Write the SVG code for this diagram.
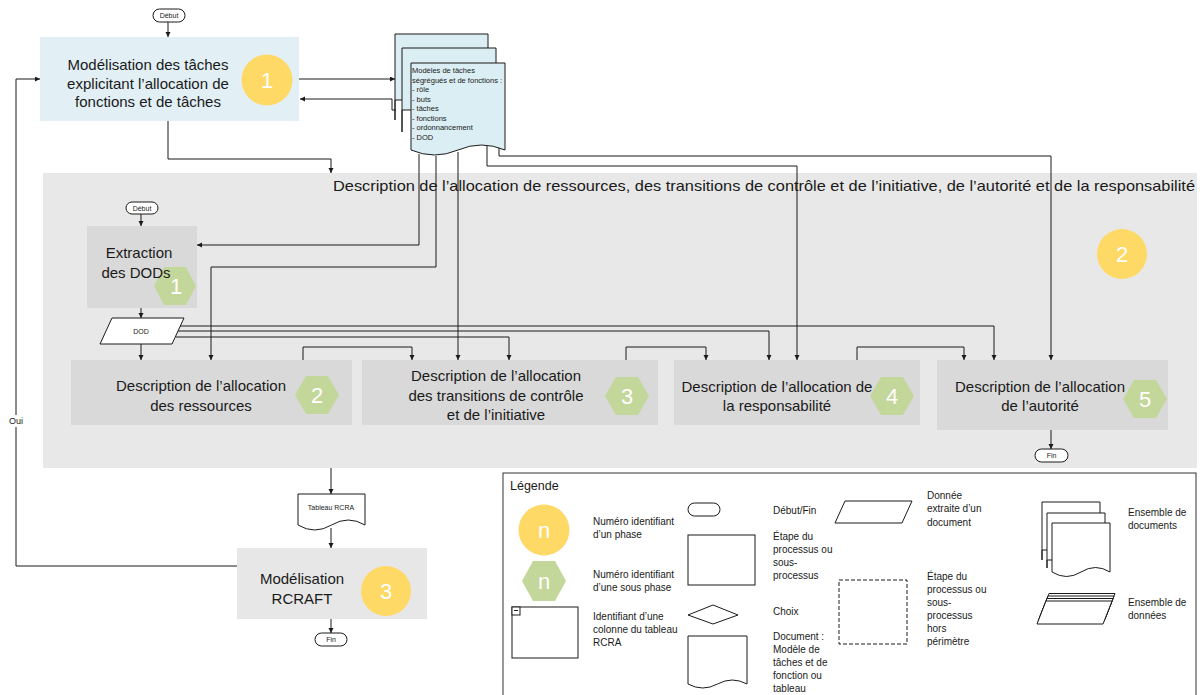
<svg xmlns="http://www.w3.org/2000/svg" width="1202" height="695" viewBox="0 0 1202 695">
<style>
text{font-family:"Liberation Sans",Arial,sans-serif;fill:#1a1a1a}
.ln{fill:none;stroke:#1a1a1a;stroke-width:1}
.ar{marker-end:url(#ah)}
.box{fill:#d9d9d9}
.t15{font-size:15px;text-anchor:middle}
.num{font-size:22px;fill:#fff;text-anchor:middle}
.yc{fill:#ffd966}
.gh{fill:#c4d79b}
.sm{font-size:7px;text-anchor:middle}
.term{fill:#fff;stroke:#1a1a1a;stroke-width:1}
.lg{fill:#fff;stroke:#1a1a1a;stroke-width:1}
.lt{font-size:10px}
.doc{fill:#dbeef3;stroke:#1a1a1a;stroke-width:1}
</style>
<defs>
<marker id="ah" markerUnits="userSpaceOnUse" markerWidth="6" markerHeight="6" refX="5" refY="2.5" orient="auto">
<path d="M0,0 L5,2.5 L0,5 z" fill="#1a1a1a"/>
</marker>
</defs>
<rect width="1202" height="695" fill="#fff"/>

<g id="container">
<rect x="43" y="173" width="1154" height="295" fill="#e8e8e8"/>
<text x="333" y="191" font-size="14.5" textLength="862" lengthAdjust="spacingAndGlyphs">Description de l’allocation de ressources, des transitions de contrôle et de l’initiative, de l’autorité et de la responsabilité</text>
<circle cx="1122" cy="254" r="25" class="yc"/>
<text x="1122" y="262" class="num">2</text>
</g>

<g id="connectors">
<path class="ln ar" d="M168,22 V37"/>
<path class="ln ar" d="M299,79 H395"/>
<path class="ln ar" d="M396,110 H392 V99 H300"/>
<path class="ln ar" d="M168,121 V159 H331 V173"/>
<path class="ln ar" d="M419,154 V245 H197"/>
<path class="ln ar" d="M436,156 V267 H211 V360"/>
<path class="ln ar" d="M458,152 V360"/>
<path class="ln ar" d="M487,146 V166 H797 V360"/>
<path class="ln ar" d="M499,146 V156 H1051 V360"/>
<path class="ln ar" d="M141,214 V226"/>
<path class="ln ar" d="M141,308 V318"/>
<path class="ln ar" d="M141,344 V360"/>
<path class="ln ar" d="M180,326 H994 V360"/>
<path class="ln ar" d="M178,331 H769 V360"/>
<path class="ln ar" d="M176,337 H509 V360"/>
<path class="ln ar" d="M303,360 V347 H412 V360"/>
<path class="ln ar" d="M626,360 V347 H706 V360"/>
<path class="ln ar" d="M857,360 V347 H964 V360"/>
<path class="ln ar" d="M1051,430 V449"/>
<path class="ln ar" d="M331,468 V494"/>
<path class="ln ar" d="M331,528 V548"/>
<path class="ln ar" d="M331,619 V633"/>
<path class="ln ar" d="M237,566 H16 V79 H40"/>
<rect x="7" y="415" width="18" height="12" fill="#fff"/>
<text x="16" y="424" font-size="9" text-anchor="middle">Oui</text>
</g>

<g id="debut1">
<rect x="153" y="9" width="32" height="13" rx="6.5" class="term"/>
<text x="169" y="18" class="sm">Début</text>
</g>

<g id="node1">
<rect x="40" y="37" width="259" height="84" fill="#e2f0f5"/>
<text class="t15" font-size="14.5" x="148" y="70">Modélisation des tâches</text>
<text class="t15" font-size="14.5" x="148" y="89">explicitant l’allocation de</text>
<text class="t15" font-size="14.5" x="148" y="107">fonctions et de tâches</text>
<circle cx="267" cy="80" r="25.5" class="yc"/>
<text x="267" y="88" class="num">1</text>
</g>

<g id="docs">
<path class="doc" d="M395,34 H488 V100 H395 V120 Z"/>
<path class="doc" d="M402,48 H496 V110 H402 V132 Z"/>
<path class="doc" d="M411,63 H505 V150 Q481.5,140 458,150 T411,150 Z"/>
<g font-size="7.5">
<text x="412" y="73">Modèles de tâches</text>
<text x="412" y="83">ségrégués et de fonctions :</text>
<text x="412" y="92">- rôle</text>
<text x="412" y="102">- buts</text>
<text x="412" y="111">- tâches</text>
<text x="412" y="121">- fonctions</text>
<text x="412" y="130">- ordonnancement</text>
<text x="412" y="140">- DOD</text>
</g>
</g>

<g id="debut2">
<rect x="126" y="202" width="32" height="12" rx="6" class="term"/>
<text x="142" y="210.5" class="sm">Début</text>
</g>

<g id="extraction">
<rect x="87" y="226" width="110" height="82" class="box"/>
<polygon class="gh" points="154,286 164,267 186,267 196,286 186,305 164,305"/>
<text x="176" y="294" class="num">1</text>
<text class="t15" x="139" y="258">Extraction</text>
<text class="t15" x="136" y="278">des DODs</text>
</g>

<g id="dod">
<polygon points="112,318 184,318 172,344 100,344" class="lg"/>
<text x="141" y="334" class="sm" font-size="6.5" fill="#333">DOD</text>
</g>

<g id="node-ressources">
<rect x="71" y="360" width="281" height="65" class="box"/>
<text class="t15" x="201" y="391">Description de l’allocation</text>
<text class="t15" x="201" y="411">des ressources</text>
<polygon class="gh" points="295,395 306,376 328,376 339,395 328,414 306,414"/>
<text x="317" y="403" class="num">2</text>
</g>

<g id="node-transitions">
<rect x="362" y="360" width="296" height="65" class="box"/>
<text class="t15" x="496" y="381">Description de l’allocation</text>
<text class="t15" x="496" y="401">des transitions de contrôle</text>
<text class="t15" x="496" y="420">et de l’initiative</text>
<polygon class="gh" points="605,396 616,377 638,377 649,396 638,415 616,415"/>
<text x="627" y="404" class="num">3</text>
</g>

<g id="node-responsabilite">
<rect x="674" y="360" width="246" height="65" class="box"/>
<text class="t15" x="777" y="392">Description de l’allocation de</text>
<text class="t15" x="777" y="411">la responsabilité</text>
<polygon class="gh" points="870,396 881,377 903,377 914,396 903,415 881,415"/>
<text x="892" y="404" class="num">4</text>
</g>

<g id="node-autorite">
<rect x="937" y="360" width="231" height="70" class="box"/>
<text class="t15" x="1040" y="392">Description de l’allocation</text>
<text class="t15" x="1040" y="411">de l’autorité</text>
<polygon class="gh" points="1123,399 1134,380 1156,380 1167,399 1156,418 1134,418"/>
<text x="1145" y="407" class="num">5</text>
</g>

<g id="fin1">
<rect x="1035" y="449" width="33" height="13" rx="6.5" class="term"/>
<text x="1051.5" y="458" class="sm">Fin</text>
</g>

<g id="tableau">
<path class="lg" d="M298,494 H365 V525 Q348.25,515 331.5,525 T298,525 Z"/>
<text x="331" y="510" class="sm">Tableau RCRA</text>
</g>

<g id="node-rcraft">
<rect x="237" y="548" width="190" height="71" fill="#e7e7e7"/>
<text class="t15" x="302" y="584">Modélisation</text>
<text class="t15" x="302" y="604">RCRAFT</text>
<circle cx="386" cy="591" r="25" class="yc"/>
<text x="386" y="599" class="num">3</text>
</g>

<g id="fin2">
<rect x="315" y="633" width="32" height="13" rx="6.5" class="term"/>
<text x="331" y="642" class="sm">Fin</text>
</g>

<g id="legend">
<rect x="503" y="473" width="693" height="230" fill="#fff" stroke="#333" stroke-width="1"/>
<text x="510" y="490" font-size="12.5">Légende</text>
<circle cx="544" cy="530" r="25.5" class="yc"/>
<text x="544" y="538" class="num">n</text>
<text class="lt" x="593" y="525">Numéro identifiant</text>
<text class="lt" x="593" y="538">d’un phase</text>
<polygon class="gh" points="522,581 533,561 555,561 566,581 555,601 533,601"/>
<text x="544" y="589" class="num">n</text>
<text class="lt" x="593" y="578">Numéro identifiant</text>
<text class="lt" x="593" y="591">d’une sous phase</text>
<rect x="512" y="607" width="66" height="51" class="lg"/>
<rect x="512" y="607" width="8" height="8" class="lg"/>
<path d="M514,610.5 H518" stroke="#1a1a1a" stroke-width="1"/>
<text class="lt" x="593" y="620">Identifiant d’une</text>
<text class="lt" x="593" y="633">colonne du tableau</text>
<text class="lt" x="593" y="646">RCRA</text>

<rect x="688" y="503" width="32" height="13" rx="6.5" class="lg"/>
<text class="lt" x="773" y="514">Début/Fin</text>
<rect x="688" y="535" width="67" height="50" class="lg"/>
<text class="lt" x="773" y="540">Étape du</text>
<text class="lt" x="773" y="553">processus ou</text>
<text class="lt" x="773" y="566">sous-</text>
<text class="lt" x="773" y="579">processus</text>
<polygon points="688,615 713,605 738,615 713,624" class="lg"/>
<text class="lt" x="773" y="615">Choix</text>
<path class="lg" d="M688,636 H747 V684 Q732.25,676 717.5,684 T688,684 Z"/>
<text class="lt" x="773" y="640">Document :</text>
<text class="lt" x="773" y="653">Modèle de</text>
<text class="lt" x="773" y="666">tâches et de</text>
<text class="lt" x="773" y="679">fonction ou</text>
<text class="lt" x="773" y="692">tableau</text>

<polygon points="835,523 845,501 912,501 902,523" class="lg"/>
<text class="lt" x="927" y="499">Donnée</text>
<text class="lt" x="927" y="512">extraite d’un</text>
<text class="lt" x="927" y="526">document</text>
<rect x="839" y="580" width="68" height="64" fill="none" stroke="#1a1a1a" stroke-width="1" stroke-dasharray="4,2"/>
<text class="lt" x="927" y="580">Étape du</text>
<text class="lt" x="927" y="593">processus ou</text>
<text class="lt" x="927" y="606">sous-</text>
<text class="lt" x="927" y="619">processus</text>
<text class="lt" x="927" y="632">hors</text>
<text class="lt" x="927" y="645">périmètre</text>

<path class="lg" d="M1042,502 H1100 V550 H1042 V560 Z"/>
<path class="lg" d="M1047,513 H1105 V560 H1047 V568 Z"/>
<path class="lg" d="M1052,523 H1110 V572 Q1095.5,563 1081,572 T1052,572 Z"/>
<text class="lt" x="1128" y="516">Ensemble de</text>
<text class="lt" x="1128" y="529">documents</text>

<polygon points="1040,616.5 1049,593.5 1115,593.5 1106,616.5" class="lg"/>
<polygon points="1039,619 1048,596 1114,596 1105,619" class="lg"/>
<polygon points="1038,621.5 1047,598.5 1113,598.5 1104,621.5" class="lg"/>
<polygon points="1037,624 1046,601 1112,601 1103,624" class="lg"/>
<text class="lt" x="1128" y="606">Ensemble de</text>
<text class="lt" x="1128" y="619">données</text>
</g>
</svg>
